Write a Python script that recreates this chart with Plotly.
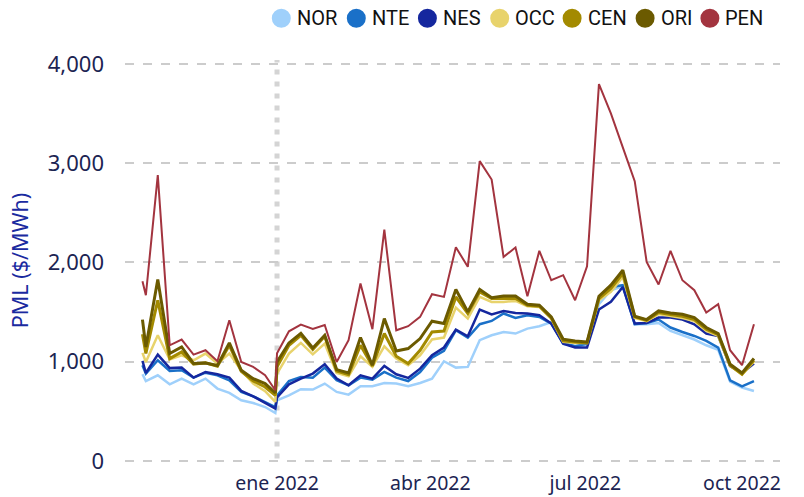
import plotly.graph_objects as go

dates = [
    "2021-10-14", "2021-10-16", "2021-10-23", "2021-10-30", "2021-11-06", "2021-11-13",
    "2021-11-20", "2021-11-27", "2021-12-04", "2021-12-11", "2021-12-18", "2021-12-25",
    "2021-12-31",
    "2022-01-01", "2022-01-08", "2022-01-15", "2022-01-22", "2022-01-29",
    "2022-02-05", "2022-02-12", "2022-02-19", "2022-02-26",
    "2022-03-05", "2022-03-12", "2022-03-19", "2022-03-26",
    "2022-04-02", "2022-04-09", "2022-04-16", "2022-04-23", "2022-04-30",
    "2022-05-07", "2022-05-14", "2022-05-21", "2022-05-28",
    "2022-06-04", "2022-06-11", "2022-06-18", "2022-06-25",
    "2022-07-02", "2022-07-09", "2022-07-16", "2022-07-23", "2022-07-30",
    "2022-08-06", "2022-08-13", "2022-08-20", "2022-08-27",
    "2022-09-03", "2022-09-10", "2022-09-17", "2022-09-24",
    "2022-10-01", "2022-10-08",
]

NOR = [874, 806, 864, 773, 830, 773, 830, 730, 686, 612, 585, 544, 484,
       612, 662, 723, 720, 780, 696, 669, 753, 753, 786, 780, 753, 786,
       830, 1005, 941, 948, 1217, 1267, 1300, 1284, 1334, 1358, 1401, 1180, 1156,
       1175, 1580, 1720, 1760, 1378, 1378, 1391, 1310, 1267, 1224, 1166, 1120, 800,
       740, 705]
NTE = [965, 881, 1015, 907, 914, 840, 890, 864, 813, 696, 652, 595, 544,
       660, 806, 847, 840, 941, 813, 763, 840, 820, 897, 840, 806, 897,
       1042, 1109, 1317, 1244, 1378, 1411, 1486, 1441, 1469, 1452, 1385, 1190, 1156,
       1183, 1627, 1754, 1771, 1378, 1391, 1425, 1345, 1300, 1260, 1210, 1143, 813,
       753, 806]
NES = [1008, 887, 1072, 936, 941, 840, 897, 874, 840, 706, 652, 585, 528,
       640, 773, 830, 881, 975, 830, 763, 864, 830, 958, 874, 837, 931,
       1065, 1143, 1324, 1257, 1526, 1476, 1512, 1492, 1486, 1469, 1385, 1183, 1143,
       1143, 1526, 1603, 1754, 1385, 1391, 1445, 1445, 1425, 1378, 1284, 1260, 955,
       887, 982]
OCC = [1089, 998, 1267, 1022, 1065, 1015, 1082, 982, 1082, 914, 780, 703, 595,
       880, 1082, 1190, 1075, 1183, 887, 854, 1055, 948, 1156, 1032, 965, 1065,
       1224, 1244, 1546, 1435, 1653, 1603, 1603, 1613, 1560, 1552, 1435, 1200, 1190,
       1190, 1620, 1704, 1855, 1440, 1410, 1480, 1460, 1440, 1410, 1310, 1260, 960,
       870, 1000]
CEN = [1277, 1083, 1620, 1032, 1099, 975, 990, 955, 1166, 905, 806, 746, 662,
       950, 1166, 1267, 1123, 1257, 907, 871, 1166, 958, 1284, 1055, 982, 1116,
       1300, 1310, 1653, 1486, 1704, 1637, 1637, 1637, 1570, 1560, 1441, 1210, 1200,
       1190, 1637, 1738, 1889, 1452, 1418, 1496, 1476, 1459, 1425, 1328, 1274, 965,
       874, 1015]
ORI = [1425, 1149, 1828, 1083, 1149, 982, 988, 962, 1190, 914, 830, 780, 686,
       998, 1190, 1287, 1139, 1267, 921, 887, 1244, 965, 1435, 1109, 1133, 1234,
       1408, 1385, 1728, 1502, 1728, 1645, 1663, 1663, 1580, 1570, 1452, 1227, 1210,
       1200, 1660, 1771, 1922, 1459, 1425, 1512, 1492, 1479, 1445, 1345, 1284, 975,
       887, 1032]
PEN = [1810, 1670, 2880, 1166, 1224, 1072, 1116, 1005, 1418, 998, 948, 864, 713,
       1085, 1307, 1375, 1331, 1371, 998, 1217, 1788, 1328, 2330, 1317, 1358, 1452,
       1680, 1653, 2154, 1956, 3021, 2836, 2056, 2151, 1660, 2117, 1821, 1872, 1620,
       1962, 3797, 3502, 3159, 2819, 2006, 1778, 2117, 1821, 1721, 1496, 1580, 1116,
       965, 1378]

series_names = ["NOR", "NTE", "NES", "OCC", "CEN", "ORI", "PEN"]
series_values = [NOR, NTE, NES, OCC, CEN, ORI, PEN]
colors = ["#9fd0fb", "#1a70c8", "#15279e", "#e8d36c", "#a38a00", "#6b5a00", "#a3343f"]
widths = [2.5, 2.5, 2.5, 2.5, 3, 3, 2]

tick_dates = ["2022-01-01", "2022-04-01", "2022-07-01", "2022-10-01"]
tick_labels = ["ene 2022", "abr 2022", "jul 2022", "oct 2022"]
y_ticks = [0, 1000, 2000, 3000, 4000]

# figure geometry (pixels)
W, H = 804, 497
ML, MR, MT, MB = 125, 24, 56, 32
PW, PH = W - ML - MR, H - MT - MB

fig = go.Figure()
for name, vals, col, w in zip(series_names, series_values, colors, widths):
    fig.add_trace(go.Scatter(x=dates, y=vals, mode="lines", name=name,
                             line=dict(color=col, width=w), showlegend=False))

fig.add_shape(type="line", xref="x", yref="y", x0="2022-01-01", x1="2022-01-01",
              y0=25, y1=4040, line=dict(color="#d4d4d4", width=5, dash="5px,7px"),
              layer="below")

# horizontal legend drawn at the top right (circle swatch + label)
legend_circle_px = [281.3, 356.3, 427.4, 499.7, 572.1, 645.1, 709.9]
legend_y_px = 18.3
for name, col, cx in zip(series_names, colors, legend_circle_px):
    xp = (cx - ML) / PW
    yp = (H - MB - legend_y_px) / PH
    fig.add_shape(type="circle", xref="paper", yref="paper",
                  xsizemode="pixel", ysizemode="pixel",
                  xanchor=xp, yanchor=yp, x0=-9.5, x1=9.5, y0=-9.5, y1=9.5,
                  fillcolor=col, line=dict(width=0))
    fig.add_annotation(x=(cx + 13.5 - ML) / PW, y=yp, xref="paper", yref="paper",
                       text=name, showarrow=False, xanchor="left", yanchor="middle",
                       font=dict(family="Roboto", size=20, color="#111111"))

fig.update_layout(
    width=W, height=H,
    margin=dict(l=ML, r=MR, t=MT, b=MB, autoexpand=False),
    paper_bgcolor="white", plot_bgcolor="white",
    font=dict(family="Noto Sans", color="#1c2452"),
    showlegend=False,
    xaxis=dict(type="date", range=["2021-10-03 18:00", "2022-10-23 07:00"],
               tickvals=tick_dates, ticktext=tick_labels, showgrid=False,
               zeroline=False, showline=False, ticks="",
               tickfont=dict(size=19.5, color="#1c2452"), ticklabelstandoff=4),
    yaxis=dict(range=[-40, 4080], tickvals=y_ticks, tickformat=",",
               showgrid=True, gridcolor="#cccccc", griddash="dash", gridwidth=2,
               zeroline=False, showline=False, ticks="",
               tickfont=dict(size=22, color="#1c2452"), ticklabelstandoff=20,
               title=dict(text="PML ($/MWh)", font=dict(size=21.5, color="#1a2aa0"),
                          standoff=13)),
)

fig.write_html("out.html", config={"displayModeBar": False},
               post_script="document.body.style.margin='0px';")
